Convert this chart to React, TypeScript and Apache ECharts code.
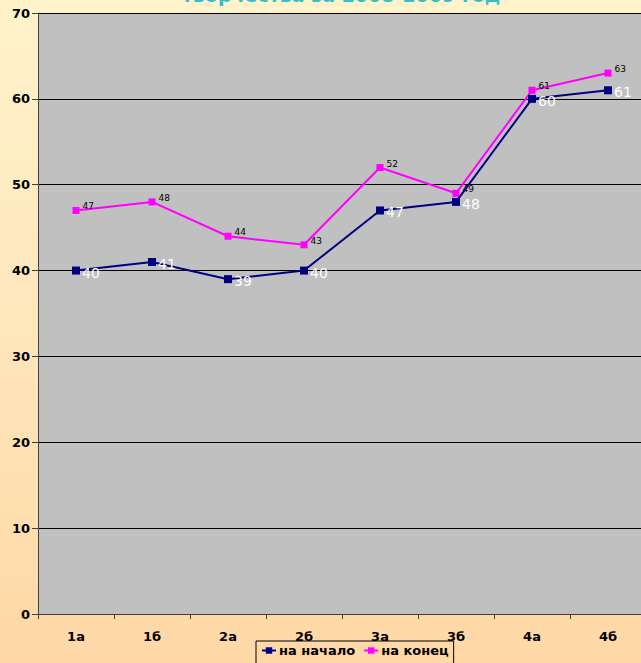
import React, { useEffect, useRef } from "react";
import * as echarts from "echarts";

const categories = ["1а", "1б", "2а", "2б", "3а", "3б", "4а", "4б"];
const startValues = [40, 41, 39, 40, 47, 48, 60, 61];
const endValues = [47, 48, 44, 43, 52, 49, 61, 63];
const seriesNames = ["на начало", "на конец"];
const titleText = "творчества за 2008-2009 год";

export default function App() {
  const ref = useRef<HTMLDivElement>(null);
  useEffect(() => {
    if (!ref.current) return;
    const chart = echarts.init(ref.current, null, { renderer: "svg" });
    const font = "DejaVu Sans";
    chart.setOption({
      animation: false,
      backgroundColor: "transparent",
      textStyle: { fontFamily: font },
      graphic: [
        {
          type: "text",
          x: 341,
          y: 4,
          style: {
            text: titleText,
            fill: "#33c0cc",
            font: `bold 19px "${font}"`,
            textAlign: "center",
            textVerticalAlign: "bottom",
          },
        },
      ],
      grid: {
        left: 38,
        top: 13,
        right: 4,
        bottom: 49,
        show: true,
        backgroundColor: "#c0c0c0",
        borderWidth: 0,
      },
      legend: {
        left: 256,
        top: 641,
        data: seriesNames,
        backgroundColor: "transparent",
        borderColor: "#000",
        borderWidth: 1,
        padding: [3, 5, 8, 5],
        itemWidth: 14,
        itemHeight: 8,
        itemGap: 8,
        textStyle: { fontFamily: font, fontSize: 13, fontWeight: "bold", color: "#000", padding: [0, 0, 0, -2] },
      },
      xAxis: {
        type: "category",
        data: categories,
        boundaryGap: true,
        axisLine: { show: true, lineStyle: { color: "#404040", width: 1 } },
        axisTick: { show: true, length: 5, inside: false, lineStyle: { color: "#404040" } },
        axisLabel: { fontFamily: font, fontSize: 13, fontWeight: "bold", color: "#000", margin: 16 },
        splitLine: { show: false },
      },
      yAxis: {
        type: "value",
        min: 0,
        max: 70,
        interval: 10,
        axisLine: { show: true, lineStyle: { color: "#404040", width: 1 } },
        axisTick: { show: true, length: 6, lineStyle: { color: "#404040" } },
        axisLabel: { fontFamily: font, fontSize: 13, fontWeight: "bold", color: "#000", margin: 8 },
        splitLine: { show: true, lineStyle: { color: "#000", width: 1 } },
      },
      series: [
        {
          name: seriesNames[0],
          type: "line",
          data: startValues,
          color: "#000080",
          symbol: "rect",
          symbolSize: 8,
          lineStyle: { width: 2, color: "#000080" },
          itemStyle: { color: "#000080" },
          label: {
            show: true,
            position: "right",
            distance: 2,
            offset: [0, 2],
            color: "#fff",
            fontFamily: font,
            fontSize: 14,
          },
          z: 3,
        },
        {
          name: seriesNames[1],
          type: "line",
          data: endValues,
          color: "#ff00ff",
          symbol: "rect",
          symbolSize: 7,
          lineStyle: { width: 2, color: "#ff00ff" },
          itemStyle: { color: "#ff00ff" },
          label: {
            show: true,
            position: "right",
            distance: 3,
            offset: [0, -4],
            color: "#000",
            fontFamily: font,
            fontSize: 9,
          },
          z: 2,
        },
      ],
    });
    return () => chart.dispose();
  }, []);
  return (
    <div
      style={{
        position: "fixed",
        left: 0,
        top: 0,
        width: 641,
        height: 663,
        background: "linear-gradient(to bottom, #fff3cc 0%, #ffe6bb 50%, #ffd8a6 100%)",
        overflow: "hidden",
      }}
    >
      <div ref={ref} style={{ width: 650, height: 663 }} />
    </div>
  );
}
